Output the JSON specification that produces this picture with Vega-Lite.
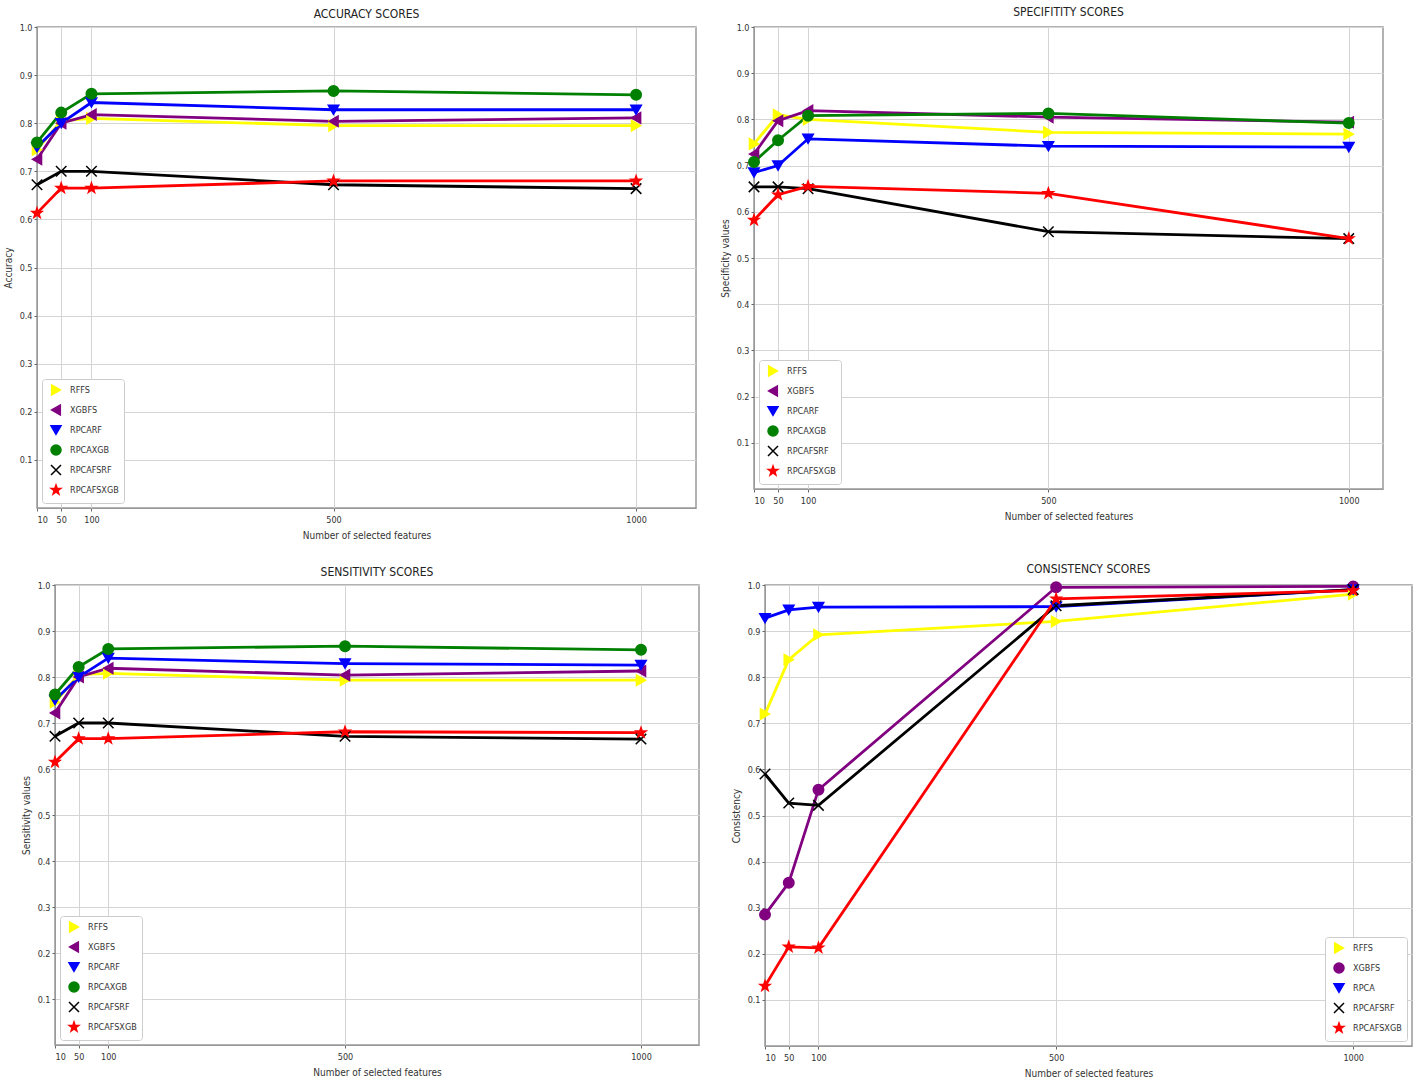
{
  "$schema": "https://vega.github.io/schema/vega-lite/v6.json",
  "padding": {"left": 1, "top": 5, "right": 0, "bottom": 0},
  "background": "white",
  "config": {
    "font": "Liberation Sans Narrow, DejaVu Sans Condensed, sans-serif",
    "view": {"stroke": "#999", "strokeWidth": 1.5},
    "axis": {"grid": true, "gridColor": "#d4d4d4", "gridWidth": 1, "domainColor": "#999", "tickColor": "#666", "tickSize": 3, "labelFontSize": 9, "labelColor": "#333", "titleFontSize": 10, "titleFontWeight": "normal", "titleColor": "#333"},
    "title": {"fontSize": 12, "fontWeight": "normal", "color": "#222", "offset": 2},
    "legend": {"fillColor": "white", "strokeColor": "#ccc", "padding": 5, "cornerRadius": 3, "labelFontSize": 9, "labelColor": "#333", "symbolSize": 100, "rowPadding": 4, "symbolStrokeWidth": 1.5, "offset": 5, "labelOffset": 8, "symbolOffset": 3}
  },
  "datasets": {
    "spacer": [],
    "scores": [
      {"panel": "acc", "series": "RFFS", "features": 10, "value": 0.745},
      {"panel": "acc", "series": "RFFS", "features": 50, "value": 0.805},
      {"panel": "acc", "series": "RFFS", "features": 100, "value": 0.81},
      {"panel": "acc", "series": "RFFS", "features": 500, "value": 0.795},
      {"panel": "acc", "series": "RFFS", "features": 1000, "value": 0.795},
      {"panel": "acc", "series": "XGBFS", "features": 10, "value": 0.725},
      {"panel": "acc", "series": "XGBFS", "features": 50, "value": 0.8},
      {"panel": "acc", "series": "XGBFS", "features": 100, "value": 0.818},
      {"panel": "acc", "series": "XGBFS", "features": 500, "value": 0.804},
      {"panel": "acc", "series": "XGBFS", "features": 1000, "value": 0.811},
      {"panel": "acc", "series": "RPCARF", "features": 10, "value": 0.75},
      {"panel": "acc", "series": "RPCARF", "features": 50, "value": 0.8},
      {"panel": "acc", "series": "RPCARF", "features": 100, "value": 0.843},
      {"panel": "acc", "series": "RPCARF", "features": 500, "value": 0.828},
      {"panel": "acc", "series": "RPCARF", "features": 1000, "value": 0.828},
      {"panel": "acc", "series": "RPCAXGB", "features": 10, "value": 0.76},
      {"panel": "acc", "series": "RPCAXGB", "features": 50, "value": 0.822},
      {"panel": "acc", "series": "RPCAXGB", "features": 100, "value": 0.861},
      {"panel": "acc", "series": "RPCAXGB", "features": 500, "value": 0.867},
      {"panel": "acc", "series": "RPCAXGB", "features": 1000, "value": 0.859},
      {"panel": "acc", "series": "RPCAFSRF", "features": 10, "value": 0.672},
      {"panel": "acc", "series": "RPCAFSRF", "features": 50, "value": 0.7},
      {"panel": "acc", "series": "RPCAFSRF", "features": 100, "value": 0.7},
      {"panel": "acc", "series": "RPCAFSRF", "features": 500, "value": 0.672},
      {"panel": "acc", "series": "RPCAFSRF", "features": 1000, "value": 0.664},
      {"panel": "acc", "series": "RPCAFSXGB", "features": 10, "value": 0.613},
      {"panel": "acc", "series": "RPCAFSXGB", "features": 50, "value": 0.665},
      {"panel": "acc", "series": "RPCAFSXGB", "features": 100, "value": 0.665},
      {"panel": "acc", "series": "RPCAFSXGB", "features": 500, "value": 0.68},
      {"panel": "acc", "series": "RPCAFSXGB", "features": 1000, "value": 0.68},

      {"panel": "spec", "series": "RFFS", "features": 10, "value": 0.747},
      {"panel": "spec", "series": "RFFS", "features": 50, "value": 0.81},
      {"panel": "spec", "series": "RFFS", "features": 100, "value": 0.8},
      {"panel": "spec", "series": "RFFS", "features": 500, "value": 0.772},
      {"panel": "spec", "series": "RFFS", "features": 1000, "value": 0.768},
      {"panel": "spec", "series": "XGBFS", "features": 10, "value": 0.725},
      {"panel": "spec", "series": "XGBFS", "features": 50, "value": 0.797},
      {"panel": "spec", "series": "XGBFS", "features": 100, "value": 0.819},
      {"panel": "spec", "series": "XGBFS", "features": 500, "value": 0.805},
      {"panel": "spec", "series": "XGBFS", "features": 1000, "value": 0.794},
      {"panel": "spec", "series": "RPCARF", "features": 10, "value": 0.685},
      {"panel": "spec", "series": "RPCARF", "features": 50, "value": 0.7},
      {"panel": "spec", "series": "RPCARF", "features": 100, "value": 0.758},
      {"panel": "spec", "series": "RPCARF", "features": 500, "value": 0.742},
      {"panel": "spec", "series": "RPCARF", "features": 1000, "value": 0.74},
      {"panel": "spec", "series": "RPCAXGB", "features": 10, "value": 0.708},
      {"panel": "spec", "series": "RPCAXGB", "features": 50, "value": 0.755},
      {"panel": "spec", "series": "RPCAXGB", "features": 100, "value": 0.808},
      {"panel": "spec", "series": "RPCAXGB", "features": 500, "value": 0.813},
      {"panel": "spec", "series": "RPCAXGB", "features": 1000, "value": 0.792},
      {"panel": "spec", "series": "RPCAFSRF", "features": 10, "value": 0.654},
      {"panel": "spec", "series": "RPCAFSRF", "features": 50, "value": 0.654},
      {"panel": "spec", "series": "RPCAFSRF", "features": 100, "value": 0.65},
      {"panel": "spec", "series": "RPCAFSRF", "features": 500, "value": 0.557},
      {"panel": "spec", "series": "RPCAFSRF", "features": 1000, "value": 0.542},
      {"panel": "spec", "series": "RPCAFSXGB", "features": 10, "value": 0.582},
      {"panel": "spec", "series": "RPCAFSXGB", "features": 50, "value": 0.637},
      {"panel": "spec", "series": "RPCAFSXGB", "features": 100, "value": 0.655},
      {"panel": "spec", "series": "RPCAFSXGB", "features": 500, "value": 0.64},
      {"panel": "spec", "series": "RPCAFSXGB", "features": 1000, "value": 0.542},

      {"panel": "sens", "series": "RFFS", "features": 10, "value": 0.745},
      {"panel": "sens", "series": "RFFS", "features": 50, "value": 0.805},
      {"panel": "sens", "series": "RFFS", "features": 100, "value": 0.808},
      {"panel": "sens", "series": "RFFS", "features": 500, "value": 0.793},
      {"panel": "sens", "series": "RFFS", "features": 1000, "value": 0.793},
      {"panel": "sens", "series": "XGBFS", "features": 10, "value": 0.722},
      {"panel": "sens", "series": "XGBFS", "features": 50, "value": 0.8},
      {"panel": "sens", "series": "XGBFS", "features": 100, "value": 0.819},
      {"panel": "sens", "series": "XGBFS", "features": 500, "value": 0.804},
      {"panel": "sens", "series": "XGBFS", "features": 1000, "value": 0.813},
      {"panel": "sens", "series": "RPCARF", "features": 10, "value": 0.75},
      {"panel": "sens", "series": "RPCARF", "features": 50, "value": 0.8},
      {"panel": "sens", "series": "RPCARF", "features": 100, "value": 0.841},
      {"panel": "sens", "series": "RPCARF", "features": 500, "value": 0.829},
      {"panel": "sens", "series": "RPCARF", "features": 1000, "value": 0.826},
      {"panel": "sens", "series": "RPCAXGB", "features": 10, "value": 0.762},
      {"panel": "sens", "series": "RPCAXGB", "features": 50, "value": 0.822},
      {"panel": "sens", "series": "RPCAXGB", "features": 100, "value": 0.861},
      {"panel": "sens", "series": "RPCAXGB", "features": 500, "value": 0.867},
      {"panel": "sens", "series": "RPCAXGB", "features": 1000, "value": 0.859},
      {"panel": "sens", "series": "RPCAFSRF", "features": 10, "value": 0.671},
      {"panel": "sens", "series": "RPCAFSRF", "features": 50, "value": 0.7},
      {"panel": "sens", "series": "RPCAFSRF", "features": 100, "value": 0.7},
      {"panel": "sens", "series": "RPCAFSRF", "features": 500, "value": 0.671},
      {"panel": "sens", "series": "RPCAFSRF", "features": 1000, "value": 0.665},
      {"panel": "sens", "series": "RPCAFSXGB", "features": 10, "value": 0.615},
      {"panel": "sens", "series": "RPCAFSXGB", "features": 50, "value": 0.666},
      {"panel": "sens", "series": "RPCAFSXGB", "features": 100, "value": 0.666},
      {"panel": "sens", "series": "RPCAFSXGB", "features": 500, "value": 0.681},
      {"panel": "sens", "series": "RPCAFSXGB", "features": 1000, "value": 0.679},

      {"panel": "cons", "series": "RFFS", "features": 10, "value": 0.72},
      {"panel": "cons", "series": "RFFS", "features": 50, "value": 0.838},
      {"panel": "cons", "series": "RFFS", "features": 100, "value": 0.892},
      {"panel": "cons", "series": "RFFS", "features": 500, "value": 0.921},
      {"panel": "cons", "series": "RFFS", "features": 1000, "value": 0.98},
      {"panel": "cons", "series": "XGBFS", "features": 10, "value": 0.285},
      {"panel": "cons", "series": "XGBFS", "features": 50, "value": 0.354},
      {"panel": "cons", "series": "XGBFS", "features": 100, "value": 0.556},
      {"panel": "cons", "series": "XGBFS", "features": 500, "value": 0.995},
      {"panel": "cons", "series": "XGBFS", "features": 1000, "value": 0.997},
      {"panel": "cons", "series": "RPCA", "features": 10, "value": 0.928},
      {"panel": "cons", "series": "RPCA", "features": 50, "value": 0.946},
      {"panel": "cons", "series": "RPCA", "features": 100, "value": 0.952},
      {"panel": "cons", "series": "RPCA", "features": 500, "value": 0.953},
      {"panel": "cons", "series": "RPCA", "features": 1000, "value": 0.99},
      {"panel": "cons", "series": "RPCAFSRF", "features": 10, "value": 0.59},
      {"panel": "cons", "series": "RPCAFSRF", "features": 50, "value": 0.527},
      {"panel": "cons", "series": "RPCAFSRF", "features": 100, "value": 0.522},
      {"panel": "cons", "series": "RPCAFSRF", "features": 500, "value": 0.955},
      {"panel": "cons", "series": "RPCAFSRF", "features": 1000, "value": 0.99},
      {"panel": "cons", "series": "RPCAFSXGB", "features": 10, "value": 0.13},
      {"panel": "cons", "series": "RPCAFSXGB", "features": 50, "value": 0.215},
      {"panel": "cons", "series": "RPCAFSXGB", "features": 100, "value": 0.213},
      {"panel": "cons", "series": "RPCAFSXGB", "features": 500, "value": 0.97},
      {"panel": "cons", "series": "RPCAFSXGB", "features": 1000, "value": 0.988}
    ]
  },
  "spacing": 21,
  "resolve": {"scale": {"x": "independent", "y": "independent", "stroke": "independent", "fill": "independent", "shape": "independent"}, "legend": {"stroke": "independent", "fill": "independent", "shape": "independent"}},
  "vconcat": [
    {
      "spacing": 0,
      "resolve": {"scale": {"x": "independent", "y": "independent", "stroke": "independent", "fill": "independent", "shape": "independent"}, "legend": {"stroke": "independent", "fill": "independent", "shape": "independent"}},
      "hconcat": [
        {"width": 1, "height": 1, "data": {"name": "spacer"}, "view": {"stroke": null}, "mark": {"type": "point", "opacity": 0, "size": 0}, "encoding": {}},
        {
          "width": 659, "height": 481,
          "title": "ACCURACY SCORES",
          "data": {"name": "scores"},
          "transform": [{"filter": "datum.panel === 'acc'"}],
          "encoding": {
            "x": {"field": "features", "type": "quantitative", "scale": {"domain": [10, 1099], "nice": false, "zero": false}, "axis": {"values": [10, 50, 100, 500, 1000], "format": "d", "title": "Number of selected features", "labelPadding": 4, "titlePadding": 6}},
            "y": {"field": "value", "type": "quantitative", "scale": {"domain": [0, 1], "nice": false}, "axis": {"values": [0.1, 0.2, 0.3, 0.4, 0.5, 0.6, 0.7, 0.8, 0.9, 1.0], "format": ".1f", "title": "Accuracy", "titlePadding": 6}}
          },
          "layer": [
            {"mark": {"type": "line", "strokeWidth": 2.8}, "encoding": {"stroke": {"field": "series", "type": "nominal", "scale": {"domain": ["RFFS", "XGBFS", "RPCARF", "RPCAXGB", "RPCAFSRF", "RPCAFSXGB"], "range": ["#ffff00", "#800080", "#0000ff", "#008000", "#000000", "#ff0000"]}, "legend": {"title": null, "orient": "bottom-left"}}}},
            {"mark": {"type": "point", "filled": true, "size": 110, "strokeWidth": 1.5, "opacity": 1}, "encoding": {
              "shape": {"field": "series", "type": "nominal", "scale": {"domain": ["RFFS", "XGBFS", "RPCARF", "RPCAXGB", "RPCAFSRF", "RPCAFSXGB"], "range": ["triangle-right", "triangle-left", "triangle-down", "circle", "M-1,-1L1,1M-1,1L1,-1", "M0,-1L0.235,-0.324L0.951,-0.309L0.38,0.124L0.588,0.809L0,0.4L-0.588,0.809L-0.38,0.124L-0.951,-0.309L-0.235,-0.324Z"]}, "legend": {"title": null, "orient": "bottom-left"}},
              "fill": {"field": "series", "type": "nominal", "scale": {"domain": ["RFFS", "XGBFS", "RPCARF", "RPCAXGB", "RPCAFSRF", "RPCAFSXGB"], "range": ["#ffff00", "#800080", "#0000ff", "#008000", "#000000", "#ff0000"]}, "legend": {"title": null, "orient": "bottom-left"}},
              "stroke": {"field": "series", "type": "nominal", "scale": {"domain": ["RFFS", "XGBFS", "RPCARF", "RPCAXGB", "RPCAFSRF", "RPCAFSXGB"], "range": ["#ffff00", "#800080", "#0000ff", "#008000", "#000000", "#ff0000"]}, "legend": {"title": null, "orient": "bottom-left"}}
            }}
          ]
        },
        {
          "width": 629, "height": 462,
          "title": {"text": "SPECIFITITY SCORES", "offset": 4},
          "data": {"name": "scores"},
          "transform": [{"filter": "datum.panel === 'spec'"}],
          "encoding": {
            "x": {"field": "features", "type": "quantitative", "scale": {"domain": [10, 1057], "nice": false, "zero": false}, "axis": {"values": [10, 50, 100, 500, 1000], "format": "d", "title": "Number of selected features", "labelPadding": 4, "titlePadding": 6}},
            "y": {"field": "value", "type": "quantitative", "scale": {"domain": [0, 1], "nice": false}, "axis": {"values": [0.1, 0.2, 0.3, 0.4, 0.5, 0.6, 0.7, 0.8, 0.9, 1.0], "format": ".1f", "title": ["", "Specificity values"], "titleLineHeight": 22, "titlePadding": 6}}
          },
          "layer": [
            {"mark": {"type": "line", "strokeWidth": 2.8}, "encoding": {"stroke": {"field": "series", "type": "nominal", "scale": {"domain": ["RFFS", "XGBFS", "RPCARF", "RPCAXGB", "RPCAFSRF", "RPCAFSXGB"], "range": ["#ffff00", "#800080", "#0000ff", "#008000", "#000000", "#ff0000"]}, "legend": {"title": null, "orient": "bottom-left"}}}},
            {"mark": {"type": "point", "filled": true, "size": 110, "strokeWidth": 1.5, "opacity": 1}, "encoding": {
              "shape": {"field": "series", "type": "nominal", "scale": {"domain": ["RFFS", "XGBFS", "RPCARF", "RPCAXGB", "RPCAFSRF", "RPCAFSXGB"], "range": ["triangle-right", "triangle-left", "triangle-down", "circle", "M-1,-1L1,1M-1,1L1,-1", "M0,-1L0.235,-0.324L0.951,-0.309L0.38,0.124L0.588,0.809L0,0.4L-0.588,0.809L-0.38,0.124L-0.951,-0.309L-0.235,-0.324Z"]}, "legend": {"title": null, "orient": "bottom-left"}},
              "fill": {"field": "series", "type": "nominal", "scale": {"domain": ["RFFS", "XGBFS", "RPCARF", "RPCAXGB", "RPCAFSRF", "RPCAFSXGB"], "range": ["#ffff00", "#800080", "#0000ff", "#008000", "#000000", "#ff0000"]}, "legend": {"title": null, "orient": "bottom-left"}},
              "stroke": {"field": "series", "type": "nominal", "scale": {"domain": ["RFFS", "XGBFS", "RPCARF", "RPCAXGB", "RPCAFSRF", "RPCAFSXGB"], "range": ["#ffff00", "#800080", "#0000ff", "#008000", "#000000", "#ff0000"]}, "legend": {"title": null, "orient": "bottom-left"}}
            }}
          ]
        }
      ]
    },
    {
      "spacing": 0,
      "resolve": {"scale": {"x": "independent", "y": "independent", "stroke": "independent", "fill": "independent", "shape": "independent"}, "legend": {"stroke": "independent", "fill": "independent", "shape": "independent"}},
      "hconcat": [
        {"width": 1, "height": 1, "data": {"name": "spacer"}, "view": {"stroke": null}, "mark": {"type": "point", "opacity": 0, "size": 0}, "encoding": {}},
        {
          "width": 644, "height": 460,
          "title": "SENSITIVITY SCORES",
          "data": {"name": "scores"},
          "transform": [{"filter": "datum.panel === 'sens'"}],
          "encoding": {
            "x": {"field": "features", "type": "quantitative", "scale": {"domain": [10, 1098], "nice": false, "zero": false}, "axis": {"values": [10, 50, 100, 500, 1000], "format": "d", "title": "Number of selected features", "labelPadding": 4, "titlePadding": 6}},
            "y": {"field": "value", "type": "quantitative", "scale": {"domain": [0, 1], "nice": false}, "axis": {"values": [0.1, 0.2, 0.3, 0.4, 0.5, 0.6, 0.7, 0.8, 0.9, 1.0], "format": ".1f", "title": ["", "Sensitivity values"], "titleLineHeight": 18, "titlePadding": 6}}
          },
          "layer": [
            {"mark": {"type": "line", "strokeWidth": 2.8}, "encoding": {"stroke": {"field": "series", "type": "nominal", "scale": {"domain": ["RFFS", "XGBFS", "RPCARF", "RPCAXGB", "RPCAFSRF", "RPCAFSXGB"], "range": ["#ffff00", "#800080", "#0000ff", "#008000", "#000000", "#ff0000"]}, "legend": {"title": null, "orient": "bottom-left"}}}},
            {"mark": {"type": "point", "filled": true, "size": 110, "strokeWidth": 1.5, "opacity": 1}, "encoding": {
              "shape": {"field": "series", "type": "nominal", "scale": {"domain": ["RFFS", "XGBFS", "RPCARF", "RPCAXGB", "RPCAFSRF", "RPCAFSXGB"], "range": ["triangle-right", "triangle-left", "triangle-down", "circle", "M-1,-1L1,1M-1,1L1,-1", "M0,-1L0.235,-0.324L0.951,-0.309L0.38,0.124L0.588,0.809L0,0.4L-0.588,0.809L-0.38,0.124L-0.951,-0.309L-0.235,-0.324Z"]}, "legend": {"title": null, "orient": "bottom-left"}},
              "fill": {"field": "series", "type": "nominal", "scale": {"domain": ["RFFS", "XGBFS", "RPCARF", "RPCAXGB", "RPCAFSRF", "RPCAFSXGB"], "range": ["#ffff00", "#800080", "#0000ff", "#008000", "#000000", "#ff0000"]}, "legend": {"title": null, "orient": "bottom-left"}},
              "stroke": {"field": "series", "type": "nominal", "scale": {"domain": ["RFFS", "XGBFS", "RPCARF", "RPCAXGB", "RPCAFSRF", "RPCAFSXGB"], "range": ["#ffff00", "#800080", "#0000ff", "#008000", "#000000", "#ff0000"]}, "legend": {"title": null, "orient": "bottom-left"}}
            }}
          ]
        },
        {
          "width": 647, "height": 461,
          "title": "CONSISTENCY SCORES",
          "data": {"name": "scores"},
          "transform": [{"filter": "datum.panel === 'cons'"}],
          "encoding": {
            "x": {"field": "features", "type": "quantitative", "scale": {"domain": [10, 1099], "nice": false, "zero": false}, "axis": {"values": [10, 50, 100, 500, 1000], "format": "d", "title": "Number of selected features", "labelPadding": 4, "titlePadding": 6}},
            "y": {"field": "value", "type": "quantitative", "scale": {"domain": [0, 1], "nice": false}, "axis": {"values": [0.1, 0.2, 0.3, 0.4, 0.5, 0.6, 0.7, 0.8, 0.9, 1.0], "format": ".1f", "title": ["", "Consistency"], "titleLineHeight": 30, "titlePadding": 6}}
          },
          "layer": [
            {"mark": {"type": "line", "strokeWidth": 2.8}, "encoding": {"stroke": {"field": "series", "type": "nominal", "scale": {"domain": ["RFFS", "XGBFS", "RPCA", "RPCAFSRF", "RPCAFSXGB"], "range": ["#ffff00", "#800080", "#0000ff", "#000000", "#ff0000"]}, "legend": {"title": null, "orient": "bottom-right"}}}},
            {"mark": {"type": "point", "filled": true, "size": 110, "strokeWidth": 1.5, "opacity": 1}, "encoding": {
              "shape": {"field": "series", "type": "nominal", "scale": {"domain": ["RFFS", "XGBFS", "RPCA", "RPCAFSRF", "RPCAFSXGB"], "range": ["triangle-right", "circle", "triangle-down", "M-1,-1L1,1M-1,1L1,-1", "M0,-1L0.235,-0.324L0.951,-0.309L0.38,0.124L0.588,0.809L0,0.4L-0.588,0.809L-0.38,0.124L-0.951,-0.309L-0.235,-0.324Z"]}, "legend": {"title": null, "orient": "bottom-right"}},
              "fill": {"field": "series", "type": "nominal", "scale": {"domain": ["RFFS", "XGBFS", "RPCA", "RPCAFSRF", "RPCAFSXGB"], "range": ["#ffff00", "#800080", "#0000ff", "#000000", "#ff0000"]}, "legend": {"title": null, "orient": "bottom-right"}},
              "stroke": {"field": "series", "type": "nominal", "scale": {"domain": ["RFFS", "XGBFS", "RPCA", "RPCAFSRF", "RPCAFSXGB"], "range": ["#ffff00", "#800080", "#0000ff", "#000000", "#ff0000"]}, "legend": {"title": null, "orient": "bottom-right"}}
            }}
          ]
        }
      ]
    }
  ]
}
